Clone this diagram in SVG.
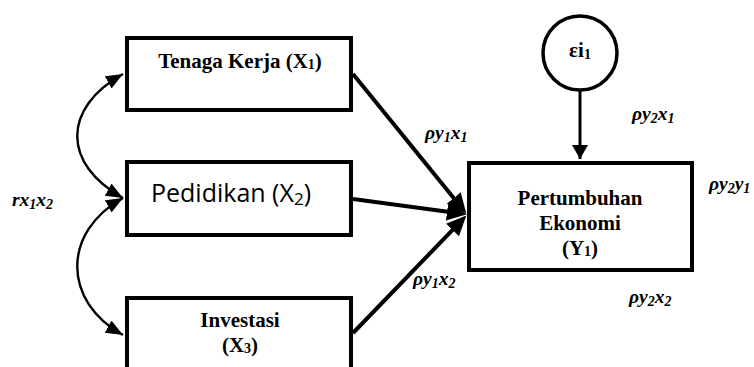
<svg xmlns="http://www.w3.org/2000/svg" width="754" height="367" viewBox="0 0 754 367">
<style>
.box{fill:#fff;stroke:#000;stroke-width:4}
.tb{font-family:'Liberation Serif','Times New Roman',Tinos,Times,serif;font-weight:700;font-size:21px;fill:#000;text-anchor:middle}
.ts{font-family:'Open Sans','Noto Sans',sans-serif;font-size:25px;fill:#000;text-anchor:middle}
.lb{font-family:'Liberation Serif','Times New Roman',Tinos,Times,serif;font-weight:700;font-style:italic;font-size:19.5px;fill:#000}
.sub{font-size:14px}
.thick{fill:none;stroke:#000;stroke-width:4}
.thin{fill:none;stroke:#000;stroke-width:2.4}
</style>
<defs>
<marker id="big" markerUnits="userSpaceOnUse" markerWidth="22" markerHeight="18" refX="10" refY="9" orient="auto">
<path d="M0,0 L20,9 L0,18 z" fill="#000"/>
</marker>
<marker id="mid" markerUnits="userSpaceOnUse" markerWidth="16" markerHeight="16" refX="14" refY="8" orient="auto">
<path d="M0,0 L14,8 L0,16 z" fill="#000"/>
</marker>
<marker id="sm" markerUnits="userSpaceOnUse" markerWidth="18" markerHeight="15" refX="17" refY="7" orient="auto-start-reverse">
<path d="M0,0 L17,7 L0,14 z" fill="#000"/>
</marker>
</defs>

<g id="x1">
<rect class="box" x="127" y="38" width="224" height="72"/>
<text class="tb" x="240" y="68">Tenaga Kerja (X<tspan font-size="14" dy="1">1</tspan><tspan dy="-1">)</tspan></text>
</g>
<g id="x2">
<rect class="box" x="127" y="162" width="224" height="73"/>
<text class="ts" x="231" y="202">Pedidikan (X<tspan font-size="17" dy="3">2</tspan><tspan dy="-3">)</tspan></text>
</g>
<g id="x3">
<rect class="box" x="127" y="298" width="224" height="100"/>
<text class="tb" x="240" y="327">Investasi</text>
<text class="tb" x="240" y="352">(X<tspan font-size="14" dy="1">3</tspan><tspan dy="-1">)</tspan></text>
</g>
<g id="y1">
<rect class="box" x="469" y="163" width="223" height="107"/>
<text class="tb" x="580" y="205">Pertumbuhan</text>
<text class="tb" x="580" y="230">Ekonomi</text>
<text class="tb" x="580" y="255">(Y<tspan font-size="14" dy="1">1</tspan><tspan dy="-1">)</tspan></text>
</g>
<g id="e1">
<circle cx="580" cy="53" r="37" fill="#fff" stroke="#000" stroke-width="3.5"/>
<text class="tb" x="580" y="57" font-size="19">εi<tspan font-size="14" dy="2">1</tspan></text>
</g>

<g id="connectors">
<line class="thick" x1="353" y1="74" x2="460" y2="205.8" marker-end="url(#big)"/>
<line class="thick" x1="353" y1="199" x2="457" y2="212.9" marker-end="url(#big)"/>
<line class="thick" x1="353" y1="333" x2="459.4" y2="222.8" marker-end="url(#big)"/>
<line x1="580" y1="91" x2="580" y2="159" stroke="#000" stroke-width="3" marker-end="url(#mid)"/>
<path class="thin" d="M123,74 C62,108 62,164 123,198" marker-start="url(#sm)" marker-end="url(#sm)"/>
<path class="thin" d="M123,198 C62,232 62,301 123,335" marker-start="url(#sm)" marker-end="url(#sm)"/>
</g>

<g id="labels">
<text class="lb" x="12" y="206">rx<tspan class="sub" dy="3">1</tspan><tspan dy="-3">x</tspan><tspan class="sub" dy="3">2</tspan></text>
<text class="lb" x="425" y="139">ρy<tspan class="sub" dy="3">1</tspan><tspan dy="-3">x</tspan><tspan class="sub" dy="3">1</tspan></text>
<text class="lb" x="632" y="120">ρy<tspan class="sub" dy="3">2</tspan><tspan dy="-3">x</tspan><tspan class="sub" dy="3">1</tspan></text>
<text class="lb" x="709" y="190">ρy<tspan class="sub" dy="3">2</tspan><tspan dy="-3">y</tspan><tspan class="sub" dy="3">1</tspan></text>
<text class="lb" x="413" y="285">ρy<tspan class="sub" dy="3">1</tspan><tspan dy="-3">x</tspan><tspan class="sub" dy="3">2</tspan></text>
<text class="lb" x="629" y="303">ρy<tspan class="sub" dy="3">2</tspan><tspan dy="-3">x</tspan><tspan class="sub" dy="3">2</tspan></text>
</g>
</svg>
